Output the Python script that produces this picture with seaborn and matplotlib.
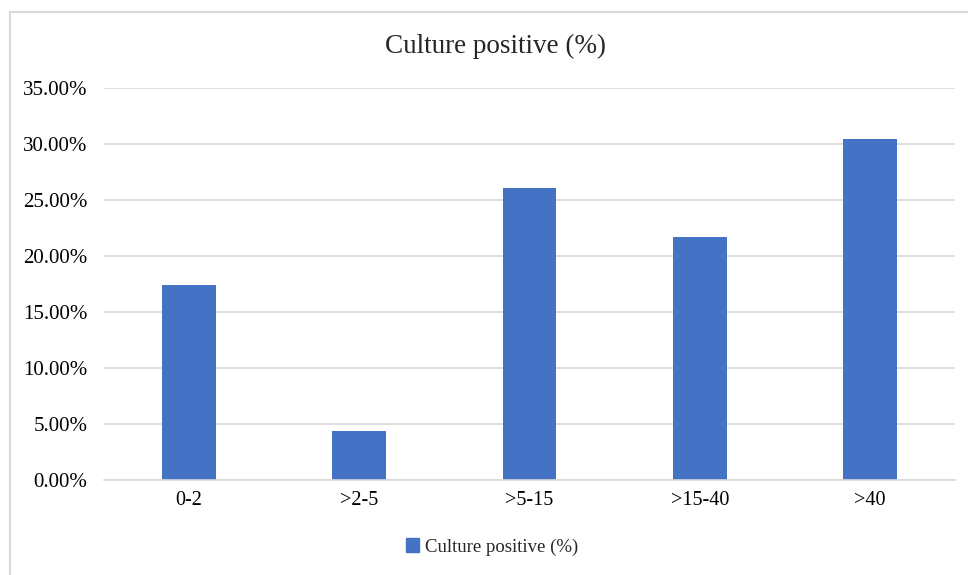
import matplotlib
matplotlib.use("Agg")
import matplotlib.pyplot as plt
import matplotlib.patches as mpatches
from matplotlib.ticker import PercentFormatter, MultipleLocator
import seaborn as sns
import pandas as pd

categories = ["0-2", ">2-5", ">5-15", ">15-40", ">40"]
values = [17.39, 4.35, 26.09, 21.74, 30.43]
series_name = "Culture positive (%)"
title = "Culture positive (%)"

sns.set_theme(style="white")
plt.rcParams["font.family"] = ["Liberation Serif", "DejaVu Serif"]

W, H = 968, 575
fig = plt.figure(figsize=(W / 100, H / 100), dpi=100)
ax = fig.add_axes([104 / W, 1 - 480 / H, (955 - 104) / W, (480 - 88) / H])

df = pd.DataFrame({"cat": categories, "val": [v / 100 for v in values]})
sns.barplot(data=df, x="cat", y="val", color="#4472C4", width=0.315,
            saturation=1, ax=ax, label=series_name, order=categories,
            linewidth=0)

ax.set_ylim(0, 0.35)
ax.yaxis.set_major_locator(MultipleLocator(0.05))
ax.yaxis.set_major_formatter(PercentFormatter(1.0, decimals=2))
ax.grid(axis="y", color="#D9D9D9", linewidth=1.2)
ax.set_axisbelow(True)
for s in ["top", "right", "left"]:
    ax.spines[s].set_visible(False)
ax.spines["bottom"].set_color("#D9D9D9")
ax.spines["bottom"].set_linewidth(1.2)
ax.tick_params(axis="y", length=0, pad=12, labelsize=15, colors="black")
ax.tick_params(axis="x", length=0, pad=8, labelsize=14.5, colors="black")
ax.set_xlabel("")
ax.set_ylabel("")

fig.text(496 / W, 1 - 46 / H, title, ha="center", va="center", fontsize=19.5)

handles = [mpatches.Patch(color="#4472C4", label=series_name)]
if ax.get_legend() is not None:
    ax.get_legend().remove()
fig.legend(handles=handles, loc="center", bbox_to_anchor=(492 / W, 1 - 547 / H),
           frameon=False, fontsize=13.5, handlelength=0.7, handleheight=0.7,
           handletextpad=0.3)

border = mpatches.Rectangle((10 / W, -0.1), 1.2, 1.1 - 12 / H,
                            transform=fig.transFigure, fill=False,
                            edgecolor="#D9D9D9", linewidth=1.5)
fig.patches.append(border)

fig.savefig("out.png", dpi=100, facecolor="white")
